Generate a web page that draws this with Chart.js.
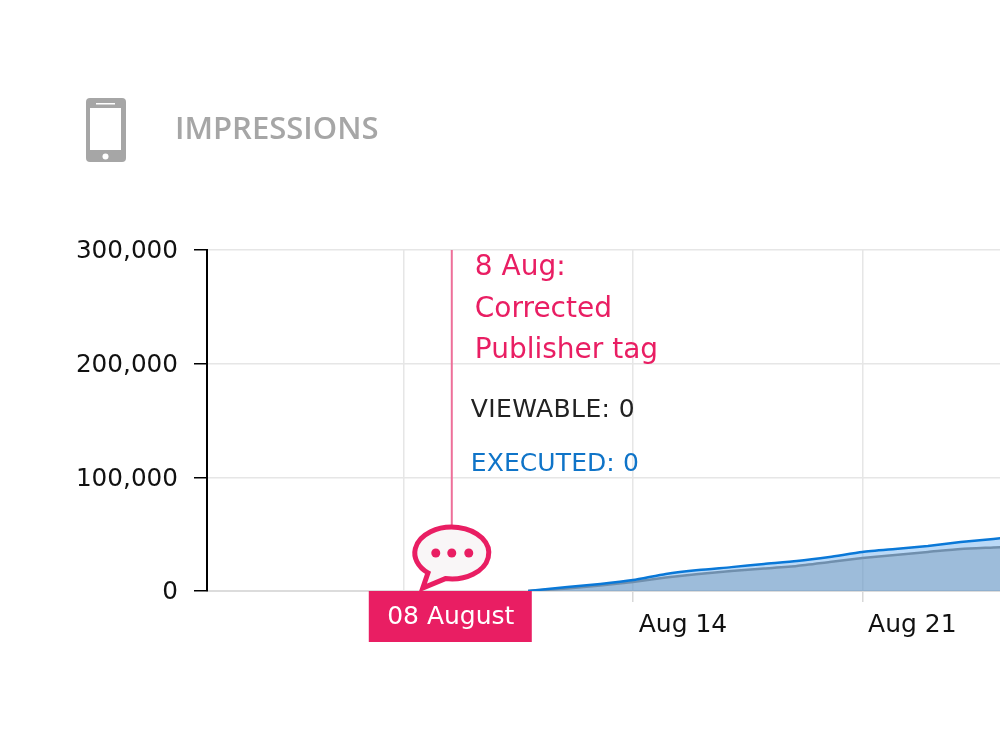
<!DOCTYPE html>
<html lang="en">
<head>
  <meta charset="UTF-8" />
  <title>Impressions</title>
  <script src="https://cdn.jsdelivr.net/npm/chart.js"></script>
  <style>
    html, body { margin: 0; padding: 0; background: #fff; overflow: hidden; }
    #wrap { position: relative; width: 1000px; height: 750px; }
    #icon { position: absolute; left: 86px; top: 98px; }
    #title { position: absolute; left: 175px; top: 106px; font: 600 31px "Open Sans", sans-serif; color: #a6a6a6; }
  </style>
</head>
<body>
  <div id="wrap">
    <canvas id="chart" width="1000" height="750"></canvas>
    <svg id="icon" width="40" height="64" viewBox="0 0 40 64">
      <rect x="0" y="0" width="40" height="64" rx="4" fill="#a6a6a6" />
      <rect x="4" y="10" width="31" height="42" fill="#fff" />
      <rect x="10" y="5" width="19" height="1.5" fill="#fff" />
      <circle cx="19.5" cy="58.5" r="3" fill="#fff" />
    </svg>
    <div id="title">IMPRESSIONS</div>
  </div>

  <script>
    const PINK = "#e91e63";

    // day of August
    const days = [10.8, 12, 13, 14, 15, 16, 17, 18, 19, 20, 21, 22, 23, 24, 25, 26];
    const executed = [0, 3500, 6200, 9700, 15000, 18500, 21000, 23800, 26400, 30000, 34300, 37000, 39600, 43100, 45800, 48400];
    const viewable = [0, 2200, 4800, 7900, 11900, 15000, 17600, 19800, 22000, 25500, 29000, 31700, 34300, 37000, 38300, 39600];

    const xTickDays = [7, 14, 21];
    const xTickLabels = ["", "Aug 14", "Aug 21"];
    const yTicks = [0, 100000, 200000, 300000];

    const noteDay = 8.47;
    const noteLabel = "08 August";
    const noteLines = ["8 Aug:", "Corrected", "Publisher tag"];
    const hoverViewable = "VIEWABLE: 0";
    const hoverExecuted = "EXECUTED: 0";

    const toPoints = values => values.map((v, i) => ({ x: days[i], y: v }));
    const rad = deg => deg * Math.PI / 180;

    const notePlugin = {
      id: "note",
      afterDraw(chart) {
        const ctx = chart.ctx;
        const area = chart.chartArea;
        const x = chart.scales.x.getPixelForValue(noteDay);
        const bottom = area.bottom;
        ctx.save();

        // marker line
        ctx.strokeStyle = "#ee6f99";
        ctx.lineWidth = 2;
        ctx.beginPath();
        ctx.moveTo(x, area.top);
        ctx.lineTo(x, bottom - 40);
        ctx.stroke();

        // speech bubble
        ctx.strokeStyle = PINK;
        ctx.fillStyle = "#f9f6f7";
        ctx.lineWidth = 5;
        ctx.beginPath();
        ctx.ellipse(x, bottom - 38, 37, 26, 0, rad(100), rad(130), true);
        ctx.lineTo(x - 29, bottom - 3);
        ctx.closePath();
        ctx.fill();
        ctx.stroke();
        ctx.fillStyle = PINK;
        [-16, 0, 17].forEach(dx => {
          ctx.beginPath();
          ctx.arc(x + dx, bottom - 38, 4.5, 0, Math.PI * 2);
          ctx.fill();
        });

        // date box
        ctx.fillStyle = PINK;
        ctx.fillRect(x - 83, bottom, 163, 51);
        ctx.fillStyle = "#fff";
        ctx.font = '25px "DejaVu Sans"';
        ctx.textAlign = "center";
        ctx.textBaseline = "alphabetic";
        ctx.fillText(noteLabel, x - 1, bottom + 33);

        // note text
        ctx.textAlign = "left";
        ctx.fillStyle = PINK;
        ctx.font = '28px "DejaVu Sans"';
        noteLines.forEach((line, i) => ctx.fillText(line, x + 23, area.top + 25 + i * 41.5));

        ctx.font = '25px "DejaVu Sans"';
        ctx.letterSpacing = "0.4px";
        ctx.fillStyle = "#222";
        ctx.fillText(hoverViewable, x + 19, 417);
        ctx.letterSpacing = "0.1px";
        ctx.fillStyle = "#0f74c8";
        ctx.fillText(hoverExecuted, x + 19, 471);
        ctx.restore();
      }
    };

    new Chart(document.getElementById("chart"), {
      type: "line",
      data: {
        datasets: [
          {
            label: "EXECUTED",
            data: toPoints(executed),
            borderColor: "#0a78d7",
            backgroundColor: "rgba(90,165,235,0.42)",
            borderWidth: 2.5,
            fill: "origin",
            pointRadius: 0,
            tension: 0.2
          },
          {
            label: "VIEWABLE",
            data: toPoints(viewable),
            borderColor: "#808080",
            backgroundColor: "rgba(130,130,130,0.4)",
            borderWidth: 2.5,
            fill: "origin",
            pointRadius: 0,
            tension: 0.2
          }
        ]
      },
      options: {
        responsive: false,
        animation: false,
        devicePixelRatio: 1,
        layout: { padding: { top: 250, left: 0, right: 0, bottom: 0 } },
        plugins: { legend: { display: false }, tooltip: { enabled: false } },
        scales: {
          x: {
            type: "linear",
            min: 1,
            max: 25.2,
            afterBuildTicks: scale => { scale.ticks = xTickDays.map(v => ({ value: v })); },
            afterFit: scale => { scale.height = 159; },
            border: { color: "#dcdcdc", width: 2 },
            grid: { color: "#e6e6e6", lineWidth: 1.5, tickColor: "#d8d8d8", tickLength: 11 },
            ticks: {
              autoSkip: false,
              maxRotation: 0,
              labelOffset: 50,
              padding: 8,
              color: "#111",
              font: { family: "DejaVu Sans", size: 25 },
              callback: (value, index) => xTickLabels[index]
            }
          },
          y: {
            min: 0,
            max: 300000,
            afterBuildTicks: scale => { scale.ticks = yTicks.map(v => ({ value: v })); },
            afterFit: scale => { scale.width = 207; },
            border: { color: "#000", width: 2 },
            grid: { color: "#e6e6e6", lineWidth: 1.5, tickColor: "#000", tickLength: 13 },
            ticks: {
              padding: 16,
              labelOffset: 2,
              color: "#111",
              font: { family: "DejaVu Sans", size: 24.7 },
              callback: value => value.toLocaleString("en-US")
            }
          }
        }
      },
      plugins: [notePlugin]
    });
  </script>
</body>
</html>
